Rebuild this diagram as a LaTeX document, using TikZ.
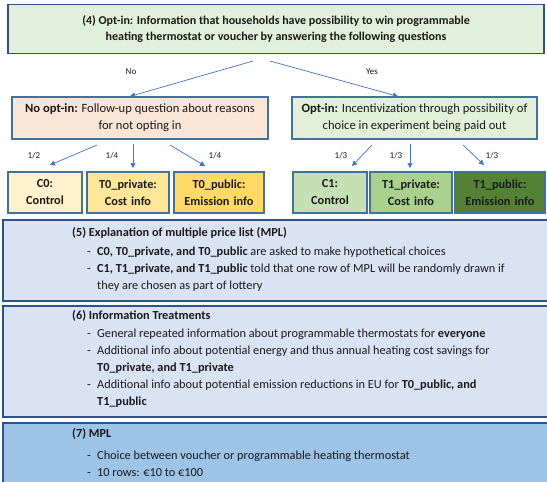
\documentclass[tikz,border=0pt]{standalone}
\usepackage{fontspec}
\setmainfont{Carlito}
\usetikzlibrary{arrows.meta}
\definecolor{bordblue}{HTML}{41719C}
\definecolor{darkbord}{HTML}{2F528F}
\definecolor{arrblue}{HTML}{4472C4}
\definecolor{topfill}{HTML}{E2EFDA}
\definecolor{peach}{HTML}{FBE5D6}
\definecolor{lgreen}{HTML}{E2F0D9}
\definecolor{yel1}{HTML}{FFF2CC}
\definecolor{yel2}{HTML}{FFE699}
\definecolor{yel3}{HTML}{FFD966}
\definecolor{grn1}{HTML}{C5E0B4}
\definecolor{grn2}{HTML}{A9D18E}
\definecolor{grn3}{HTML}{548235}
\definecolor{bluefill}{HTML}{DAE3F3}
\definecolor{bluefill2}{HTML}{9DC3E6}
\definecolor{txt}{HTML}{1A1A1A}
\tikzset{
  box/.style={draw=bordblue, line width=1.3pt, rectangle, align=center, inner sep=0pt, text=txt},
  smallbox/.style={box, font=\fontsize{12.3}{17}\selectfont\bfseries, minimum height=41, text width=#1},
  arr/.style={draw=arrblue, line width=0.7pt, -{Triangle[length=5pt,width=5pt]}},
  lab/.style={font=\fontsize{9}{10}\selectfont, text=txt, inner sep=0pt},
  line/.style={font=\fontsize{12.3}{14}\selectfont, text=txt, anchor=base west, inner sep=0pt},
  panel/.style={draw=darkbord, line width=1.4pt}
}
\begin{document}
\begin{tikzpicture}[x=1pt,y=-1pt]
\useasboundingbox (0,0) rectangle (547,482);
\fill[white] (0,0) rectangle (547,482);
% top box
\node[box, draw=darkbord, line width=1.6pt, fill=topfill, minimum width=536, minimum height=49,
  font=\fontsize{12}{15.5}\selectfont\bfseries] (top) at (276,29)
  {(4) Opt-in: Information that households have possibility to win programmable\\
   heating thermostat or voucher by answering the following questions};
\coordinate (ts1) at (253,61);
\coordinate (ts2) at (270,61);
\node[lab] (no) at (131,72) {No};
\node[lab] (yes) at (372,72) {Yes};
% second level
\node[box, fill=peach, minimum width=256, minimum height=42, font=\fontsize{12.6}{17}\selectfont] (noopt) at (140,118)
  {\textbf{No opt-in:} Follow-up question about reasons\\for not opting in};
\node[box, fill=lgreen, minimum width=245, minimum height=42, font=\fontsize{12.6}{17}\selectfont] (optin) at (414.5,118)
  {\textbf{Opt-in:} Incentivization through possibility of\\choice in experiment being paid out};
\draw[arr] (ts1) -- (noopt.north -| 130,0);
\draw[arr] (ts2) -- (optin.north -| 398,0);
% third level
\node[smallbox=74, fill=yel1] (c0) at (45,192.5) {C0:\\Control};
\node[smallbox=82, fill=yel2] (t0pr) at (128,192.5) {T0\_private:\\Cost info};
\node[smallbox=90, fill=yel3] (t0pu) at (219,192.5) {T0\_public:\\Emission info};
\node[smallbox=74, fill=grn1] (c1) at (330,192.5) {C1:\\Control};
\node[smallbox=82, fill=grn2] (t1pr) at (411,192.5) {T1\_private:\\Cost info};
\node[smallbox=90, fill=grn3] (t1pu) at (500,192.5) {T1\_public:\\Emission info};
% arrows to third level
\coordinate (l1s) at (97,145); \coordinate (l1e) at (50,165);
\coordinate (l2s) at (133,144); \coordinate (l2e) at (133,168);
\coordinate (l3s) at (170,145); \coordinate (l3e) at (205,166);
\coordinate (r1s) at (372,145); \coordinate (r1e) at (352,166);
\coordinate (r2s) at (410,144); \coordinate (r2e) at (410,168);
\coordinate (r3s) at (463,145); \coordinate (r3e) at (484,165);
\draw[arr] (l1s) -- (l1e);
\draw[arr] (l2s) -- (l2e);
\draw[arr] (l3s) -- (l3e);
\draw[arr] (r1s) -- (r1e);
\draw[arr] (r2s) -- (r2e);
\draw[arr] (r3s) -- (r3e);
\node[lab] (p1) at (34,156) {1/2};
\node[lab] (p2) at (112,156) {1/4};
\node[lab] (p3) at (215,156) {1/4};
\node[lab] (p4) at (341,156) {1/3};
\node[lab] (p5) at (396,156) {1/3};
\node[lab] (p6) at (492,156) {1/3};
% panel 5
\draw[panel, fill=bluefill] (3,220) rectangle (560,301);
\node[line] (h5) at (72,236) {\textbf{(5) Explanation of multiple price list (MPL)}};
\node[line] (d51) at (87,255) {-};
\node[line] (t51) at (97,255) {\textbf{C0, T0\_private, and T0\_public} are asked to make hypothetical choices};
\node[line] (d52) at (87,272) {-};
\node[line] (t52) at (97,272) {\textbf{C1, T1\_private, and T1\_public} told that one row of MPL will be randomly drawn if};
\node[line] (t53) at (97,289) {they are chosen as part of lottery};
% panel 6
\draw[panel, fill=bluefill] (3,306) rectangle (560,417);
\node[line] (h6) at (72,319) {\textbf{(6) Information Treatments}};
\node[line] (d61) at (87,337) {-};
\node[line] (t61) at (97,337) {General repeated information about programmable thermostats for \textbf{everyone}};
\node[line] (d62) at (87,354) {-};
\node[line] (t62) at (97,354) {Additional info about potential energy and thus annual heating cost savings for};
\node[line] (t63) at (97,371) {\textbf{T0\_private, and T1\_private}};
\node[line] (d63) at (87,388) {-};
\node[line] (t64) at (97,388) {Additional info about potential emission reductions in EU for \textbf{T0\_public, and}};
\node[line] (t65) at (97,405) {\textbf{T1\_public}};
% panel 7
\draw[panel, fill=bluefill2] (3,423) rectangle (560,500);
\node[line] (h7) at (72,437) {\textbf{(7) MPL}};
\node[line] (d71) at (87,459) {-};
\node[line] (t71) at (97,459) {Choice between voucher or programmable heating thermostat};
\node[line] (d72) at (87,476) {-};
\node[line] (t72) at (97,476) {10 rows: €10 to €100};
\end{tikzpicture}
\end{document}
